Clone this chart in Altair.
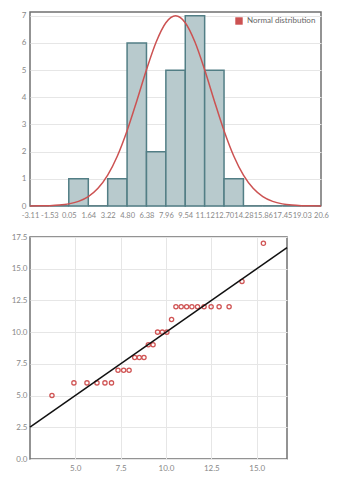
import altair as alt
import pandas as pd

# ---- histogram data ----
bin_edges = [-3.11, -1.53, 0.05, 1.64, 3.22, 4.80, 6.38, 7.96, 9.54, 11.12,
             12.70, 14.28, 15.86, 17.45, 19.03, 20.60]
bin_labels = ["-3.11", "-1.53", "0.05", "1.64", "3.22", "4.80", "6.38", "7.96", "9.54",
              "11.12", "12.70", "14.28", "15.86", "17.45", "19.03", "20.6"]
bin_counts = [0, 0, 1, 0, 1, 6, 2, 5, 7, 5, 1, 0, 0, 0, 0]

# ---- normal distribution curve ----
curve_x = [-3.11, -2.32, -1.53, -0.74, 0.05, 0.84, 1.64, 2.43, 3.22, 4.01,
           4.80, 5.59, 6.38, 7.17, 7.96, 8.75, 9.54, 10.33, 11.12, 11.91,
           12.70, 13.49, 14.28, 15.07, 15.86, 16.66, 17.45, 18.24, 19.03,
           19.82, 20.60]
curve_y = [0.002, 0.005, 0.013, 0.033, 0.078, 0.171, 0.347, 0.651, 1.136, 1.840,
           2.769, 3.866, 5.013, 6.035, 6.745, 7.0, 6.745, 6.035, 5.013, 3.866,
           2.769, 1.840, 1.136, 0.651, 0.347, 0.171, 0.078, 0.033, 0.013,
           0.005, 0.002]
curve_name = "Normal distribution"

# ---- QQ plot data ----
qq_theoretical = [3.72, 4.93, 5.65, 6.20, 6.64, 7.00, 7.36, 7.67, 7.97, 8.28,
                  8.53, 8.79, 9.03, 9.29, 9.54, 9.80, 10.05, 10.31, 10.55, 10.84,
                  11.14, 11.43, 11.74, 12.10, 12.49, 12.93, 13.48, 14.19, 15.37]
qq_sample = [5, 6, 6, 6, 6, 6, 7, 7, 7, 8,
             8, 8, 9, 9, 10, 10, 10, 11, 12, 12,
             12, 12, 12, 12, 12, 12, 12, 14, 17]
ref_line = [2.51, 16.67]

hist_ticks = [0, 1, 2, 3, 4, 5, 6, 7]
qq_x_ticks = [5.0, 7.5, 10.0, 12.5, 15.0]
qq_y_ticks = [0.0, 2.5, 5.0, 7.5, 10.0, 12.5, 15.0, 17.5]

hist_df = pd.DataFrame({"start": bin_edges[:-1], "end": bin_edges[1:], "count": bin_counts})
curve_df = pd.DataFrame({"x": curve_x, "y": curve_y, "series": [curve_name] * len(curve_x)})
qq_df = pd.DataFrame({"theoretical": qq_theoretical, "sample": qq_sample})
line_df = pd.DataFrame({"x": ref_line, "y": ref_line})

# tick labels looked up by value*100 (integer keys avoid minus-sign differences)
label_map = "{" + ", ".join(f"'{int(round(v * 100))}': '{t}'"
                            for v, t in zip(bin_edges, bin_labels)) + "}"
label_expr = f"{label_map}['' + round(datum.value * 100)]"

hx = alt.Scale(domain=[bin_edges[0], bin_edges[-1]], nice=False, zero=False)
hy = alt.Scale(domain=[0, 7.14], nice=False)


def x_axis_h():
    return alt.Axis(values=bin_edges, labelExpr=label_expr, grid=False, ticks=False,
                    domain=False, labelOverlap=False, labelFontSize=7.5, labelPadding=5,
                    title=None, labelFlush=False)


def y_axis_h():
    return alt.Axis(values=hist_ticks, format="d", grid=True, ticks=False, domain=False,
                    labelFontSize=8, labelPadding=4, title=None)


bars = alt.Chart(hist_df).mark_rect(fill="#b8cacd", stroke="#527e85", strokeWidth=1.5).encode(
    x=alt.X("start:Q", scale=hx, axis=x_axis_h()),
    x2="end:Q",
    y=alt.Y("count:Q", scale=hy, axis=y_axis_h()),
    y2=alt.datum(0),
)

curve = alt.Chart(curve_df).mark_line(strokeWidth=1.5, interpolate="monotone").encode(
    x=alt.X("x:Q", scale=hx, axis=x_axis_h()),
    y=alt.Y("y:Q", scale=hy, axis=y_axis_h()),
    color=alt.Color(
        "series:N",
        scale=alt.Scale(domain=[curve_name], range=["#cc5252"]),
        legend=alt.Legend(title=None, orient="top-right", offset=3, symbolType="square",
                          symbolSize=55, symbolFillColor="#cc5252", symbolStrokeWidth=0,
                          labelFontSize=8, labelColor="#666", labelFont="Lato", padding=2),
    ),
)

top = alt.layer(bars, curve).properties(width=291, height=194)

qx = alt.Scale(domain=ref_line, nice=False, zero=False)
qy = alt.Scale(domain=[0, 17.5], nice=False)


def x_axis_q():
    return alt.Axis(values=qq_x_ticks, format=".1f", grid=True, ticks=False, domain=False,
                    labelFontSize=8, labelPadding=5, title=None)


def y_axis_q():
    return alt.Axis(values=qq_y_ticks, format=".1f", grid=True, ticks=False, domain=False,
                    labelFontSize=8, labelPadding=3, title=None)


pts = alt.Chart(qq_df).mark_point(shape="circle", filled=False, color="#d05555", size=18,
                                  strokeWidth=1.3, opacity=1).encode(
    x=alt.X("theoretical:Q", scale=qx, axis=x_axis_q()),
    y=alt.Y("sample:Q", scale=qy, axis=y_axis_q()),
)

qline = alt.Chart(line_df).mark_line(color="#111111", strokeWidth=1.5).encode(
    x=alt.X("x:Q", scale=qx, axis=x_axis_q()),
    y=alt.Y("y:Q", scale=qy, axis=y_axis_q()),
)

bottom = alt.layer(pts, qline).properties(width=257, height=222)

chart = alt.vconcat(top, bottom, spacing=12).resolve_legend(
    color="independent"
).resolve_scale(
    color="independent"
).properties(
    padding={"left": 2, "top": 3, "right": 0, "bottom": 0}
).configure_view(
    stroke="#707070", strokeWidth=1.5
).configure_axis(
    labelFont="Lato", labelColor="#888888", gridColor="#e6e6e6", gridWidth=1
)

chart.save("out.html", embed_options={"renderer": "svg", "actions": False})
